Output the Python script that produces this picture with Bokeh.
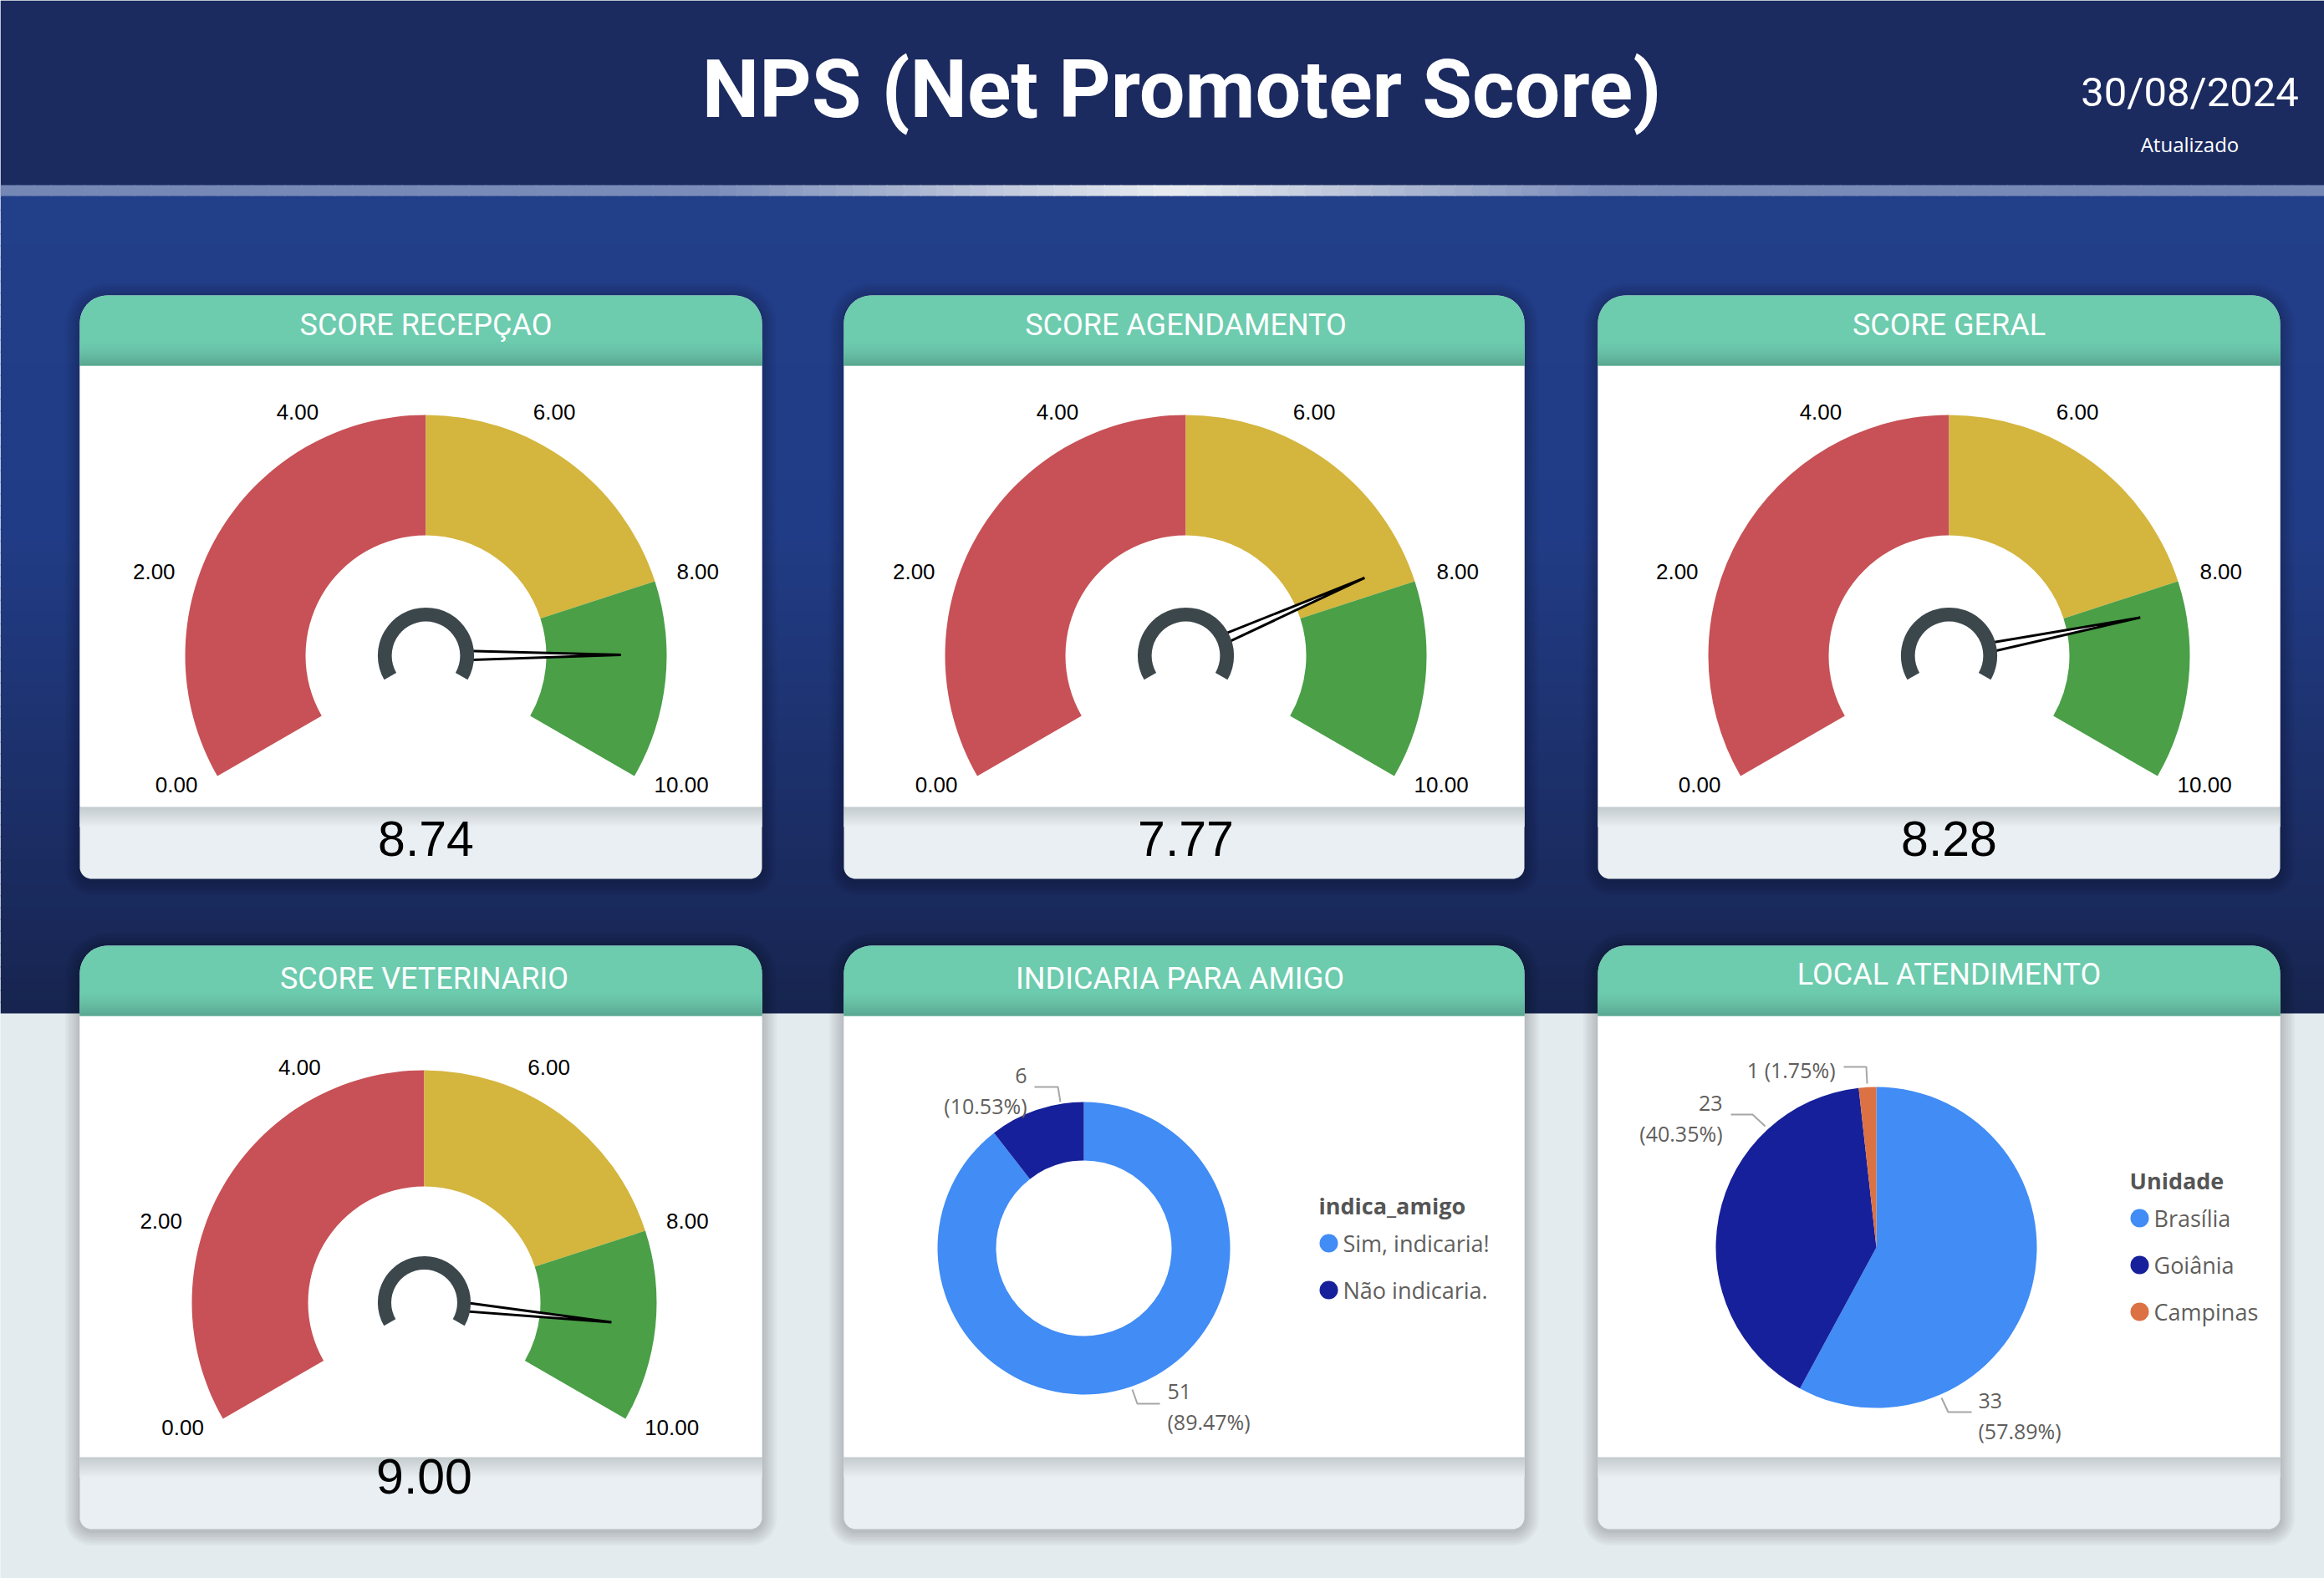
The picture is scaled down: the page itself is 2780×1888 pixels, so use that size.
import numpy as np
from bokeh.plotting import figure
from bokeh.models import Range1d
from bokeh.core.properties import value
from bokeh.embed import file_html
from bokeh.resources import INLINE

# ---------------- data ----------------
TITLE = "NPS (Net Promoter Score)"
DATE_TEXT = "30/08/2024"
UPDATED = "Atualizado"

GAUGE_TITLES = ["SCORE RECEPÇAO", "SCORE AGENDAMENTO", "SCORE GERAL", "SCORE VETERINARIO"]
GAUGE_VALUES = [8.74, 7.77, 8.28, 9.00]
GAUGE_MIN, GAUGE_MAX = 0.0, 10.0
BAND_EDGES = [0.0, 5.0, 8.0, 10.0]
BAND_COLORS = ["#c75156", "#d4b53d", "#4a9f47"]
GAUGE_TICKS = [0, 2, 4, 6, 8, 10]

DONUT_TITLE = "INDICARIA PARA AMIGO"
DONUT_FIELD = "indica_amigo"
DONUT_CATS = ["Sim, indicaria!", "Não indicaria."]
DONUT_COUNTS = [51, 6]
DONUT_COLORS = ["#418cf5", "#16209a"]

PIE_TITLE = "LOCAL ATENDIMENTO"
PIE_FIELD = "Unidade"
PIE_CATS = ["Brasília", "Goiânia", "Campinas"]
PIE_COUNTS = [33, 23, 1]
PIE_COLORS = ["#418cf5", "#16209a", "#dc7143"]

# ---------------- layout ----------------
W, H = 2780, 1888


def fy(y):
    return H - y


def h2r(h):
    h = h.lstrip("#")
    return [int(h[i:i + 2], 16) for i in (0, 2, 4)]


def r2h(c):
    return "#%02x%02x%02x" % tuple(int(round(v)) for v in c)


def mix(c1, c2, t):
    a, b = h2r(c1), h2r(c2)
    return r2h([a[i] + (b[i] - a[i]) * t for i in range(3)])


def stops_color(stops, v):
    for (p0, c0), (p1, c1) in zip(stops[:-1], stops[1:]):
        if v <= p1:
            t = 0 if p1 == p0 else (v - p0) / (p1 - p0)
            return mix(c0, c1, max(0, min(1, t)))
    return stops[-1][1]


def rrect(x0, y0, x1, y1, rt, rb, n=14):
    T, B = fy(y0), fy(y1)
    xs, ys = [], []

    def arc(cx, cy, r, a0, a1):
        for a in np.linspace(a0, a1, n):
            xs.append(cx + r * np.cos(a))
            ys.append(cy + r * np.sin(a))

    arc(x1 - rt, T - rt, rt, 0, np.pi / 2)
    arc(x0 + rt, T - rt, rt, np.pi / 2, np.pi)
    arc(x0 + rb, B + rb, rb, np.pi, 1.5 * np.pi)
    arc(x1 - rb, B + rb, rb, 1.5 * np.pi, 2 * np.pi)
    return xs, ys


def vstrips(x0, x1, y0, y1, n, colfun):
    """horizontal bands stacked vertically (screen y0..y1), overlapping to avoid seams"""
    e = np.linspace(y0, y1, n + 1)
    tops = [fy(a) for a in e[:-1]]
    bots = [fy(b) - (1.5 if j < n - 1 else 0) for j, b in enumerate(e[1:])]
    cols = [colfun((a + b) / 2, (j + 0.5) / n) for j, (a, b) in enumerate(zip(e[:-1], e[1:]))]
    p.quad(left=x0, right=x1, top=tops, bottom=bots, fill_color=cols, line_color=None)


p = figure(width=W, height=H, x_range=Range1d(0, W), y_range=Range1d(0, H),
           output_backend="svg", toolbar_location=None,
           x_axis_type=None, y_axis_type=None, min_border=0)
p.outline_line_color = None
p.background_fill_color = "#e4ebee"
p.border_fill_color = "#e4ebee"
p.grid.visible = False

# blue gradient area (drawn first, header overlaps it)
BLUE_TOP, BLUE_BOT = 222, 1212
blue_stops = [(BLUE_TOP, "#223f8a"), (640, "#213c86"), (BLUE_BOT, "#17244f")]
vstrips(0, W, BLUE_TOP, BLUE_BOT, 70, lambda y, t: stops_color(blue_stops, y))

# header band
p.quad(left=0, right=W, top=fy(0), bottom=fy(222), fill_color="#1b2a5f", line_color=None)

# light separator line with bright centre
xs_edges = np.linspace(0, W, 140)
line_stops = [(0, "#7487b5"), (850, "#7a8cb9"), (1400, "#e9edf1"), (1915, "#7a8cb9"), (W, "#7487b5")]
p.quad(left=xs_edges[:-1], right=list(xs_edges[1:-1] + 1.5) + [W], top=fy(221), bottom=fy(234),
       fill_color=[stops_color(line_stops, (a + b) / 2) for a, b in zip(xs_edges[:-1], xs_edges[1:])],
       line_color=None)

# title texts
p.text(x=[1413], y=[fy(106)], text=[TITLE], text_font=value("Roboto"), text_font_style="bold",
       text_font_size=value("97px"), text_color="white", text_align="center", text_baseline="middle")
p.text(x=[2619], y=[fy(110)], text=[DATE_TEXT], text_font=value("Roboto"),
       text_font_size=value("49px"), text_color="white", text_align="center", text_baseline="middle")
p.text(x=[2619], y=[fy(172)], text=[UPDATED], text_font=value("Open Sans"),
       text_font_size=value("24px"), text_color="white", text_align="center", text_baseline="middle")

# ---------------- cards ----------------
COLS = [(95, 911), (1009, 1823), (1911, 2727)]
ROWS = [353, 1131]
HEAD_H, BODY_B, CARD_H = 84, 612, 698
CARD_TITLES = GAUGE_TITLES[:3] + [GAUGE_TITLES[3], DONUT_TITLE, PIE_TITLE]
TITLE_POS = [(509, 388), (1418, 388), (2331, 388), (507, 1170), (1411, 1170), (2331, 1165)]

cards = [(c, r) for r in ROWS for c in COLS]

# shadows
sh_xs, sh_ys = [], []
for (x0, x1), top in cards:
    for k in range(1, 8):
        e = 2.5 * k
        xs, ys = rrect(x0 - e, top - e + 2, x1 + e, top + CARD_H + e + 2, 33 + e, 14 + e)
        sh_xs.append(xs)
        sh_ys.append(ys)
p.patches(sh_xs, sh_ys, fill_color="black", fill_alpha=0.028, line_color=None)

for i, ((x0, x1), top) in enumerate(cards):
    xs, ys = rrect(x0, top, x1, top + CARD_H, 33, 14)
    p.patch(xs, ys, fill_color="#e9eff2", line_color=None)
    # white body
    p.quad(left=x0, right=x1, top=fy(top + HEAD_H), bottom=fy(top + BODY_B), fill_color="white", line_color=None)
    # footer shadow
    vstrips(x0, x1, top + BODY_B, top + BODY_B + 24, 12,
            lambda y, t: mix("#c3cacd", "#e9eff2", t))
    # header
    xs, ys = rrect(x0, top, x1, top + HEAD_H, 33, 0)
    p.patch(xs, ys, fill_color="#6dcbae", line_color=None)
    vstrips(x0, x1, top + HEAD_H - 30, top + HEAD_H, 15,
            lambda y, t: mix("#6dcbae", "#5aa690", t ** 1.5))
    tx, ty = TITLE_POS[i]
    p.text(x=[tx], y=[fy(ty)], text=[CARD_TITLES[i]], text_font=value("Roboto"),
           text_font_size=value("36px"), text_color="white", text_align="center", text_baseline="middle")

# ---------------- gauges ----------------
GAUGE_GEOM = [(509, 784, 288), (1418, 784, 288), (2331, 784, 288), (507, 1558, 278)]
VALUE_Y = [1003, 1003, 1003, 1766]
SWEEP = 240.0


def ang(v):
    return np.radians(210.0 - (v - GAUGE_MIN) / (GAUGE_MAX - GAUGE_MIN) * SWEEP)


for gi, (cx, cy, R) in enumerate(GAUGE_GEOM):
    Y = fy(cy)
    lo = BAND_EDGES[:-1]
    hi = BAND_EDGES[1:]
    p.annular_wedge(x=[cx] * len(lo), y=[Y] * len(lo), inner_radius=R * 0.5, outer_radius=R,
                    start_angle=[ang(h) for h in hi], end_angle=[ang(l) for l in lo],
                    direction="anticlock", fill_color=BAND_COLORS, line_color=None)
    # tick labels
    for side in ("left", "right"):
        tx, tyy, tt = [], [], []
        for t in GAUGE_TICKS:
            a = ang(t)
            is_left = np.cos(a) < -1e-6
            if (side == "left") != is_left:
                continue
            rr = 1.095 * R
            tx.append(cx + rr * np.cos(a))
            tyy.append(Y + rr * np.sin(a) + 3)
            tt.append("%.2f" % t)
        p.text(x=tx, y=tyy, text=tt, text_font=value("Liberation Sans"), text_font_size=value("26px"),
               text_color="black", text_align="right" if side == "left" else "left", text_baseline="middle")
    # needle
    v = GAUGE_VALUES[gi]
    a = ang(v)
    ux, uy = np.cos(a), np.sin(a)
    px, py = -uy, ux
    r0, hw, r1 = 0.17 * R, 0.019 * R, 0.81 * R
    nx = [cx + r0 * ux + hw * px, cx + r1 * ux, cx + r0 * ux - hw * px]
    ny = [Y + r0 * uy + hw * py, Y + r1 * uy, Y + r0 * uy - hw * py]
    p.patch(nx, ny, fill_color="white", line_color="black", line_width=3, line_join="miter")
    # hub
    p.annular_wedge(x=[cx], y=[Y], inner_radius=0.142 * R, outer_radius=0.2 * R,
                    start_angle=[ang(GAUGE_MAX)], end_angle=[ang(GAUGE_MIN)], direction="anticlock",
                    fill_color="#3c474c", line_color=None)
    # value
    p.text(x=[cx], y=[fy(VALUE_Y[gi])], text=["%.2f" % v], text_font=value("Liberation Sans"),
           text_font_size=value("59px"), text_color="black", text_align="center", text_baseline="middle")


# ---------------- donut ----------------
def slice_angles(counts):
    fr = np.array(counts, dtype=float) / np.sum(counts)
    cum = np.concatenate([[0.0], np.cumsum(fr)])
    return np.pi / 2 - 2 * np.pi * cum[:-1], np.pi / 2 - 2 * np.pi * cum[1:], fr * 100


LABEL_FONT = value("Open Sans")
LABEL_COLOR = "#605e5c"
LEADER_COLOR = "#a6a6a6"

dcx, dcy = 1296, 1493
s, e, pct = slice_angles(DONUT_COUNTS)
p.annular_wedge(x=[dcx] * len(s), y=[fy(dcy)] * len(s), inner_radius=105, outer_radius=175,
                start_angle=s, end_angle=e, direction="clock", fill_color=DONUT_COLORS, line_color=None)

DONUT_LBL = [  # x, y_first, align, leader points
    (1396, 1664, "left", [(1354, 1662), (1360, 1679), (1387, 1679)]),
    (1228, 1286, "right", [(1237, 1300), (1265, 1300), (1268, 1318)]),
]
for k, (lx, ly, al, pts) in enumerate(DONUT_LBL):
    p.text(x=[lx, lx], y=[fy(ly), fy(ly + 36)], text=["%d" % DONUT_COUNTS[k], "(%.2f%%)" % pct[k]],
           text_font=LABEL_FONT, text_font_size=value("25px"), text_color=LABEL_COLOR,
           text_align=al, text_baseline="middle")
    p.line([q[0] for q in pts], [fy(q[1]) for q in pts], line_color=LEADER_COLOR, line_width=2)

p.text(x=[1577], y=[fy(1442)], text=[DONUT_FIELD], text_font=LABEL_FONT, text_font_style="bold",
       text_font_size=value("27px"), text_color="#555555", text_align="left", text_baseline="middle")
leg_y = [1487, 1543]
p.scatter(x=[1589] * len(DONUT_CATS), y=[fy(v) for v in leg_y], size=22, marker="circle",
          fill_color=DONUT_COLORS, line_color=None)
p.text(x=[1606] * len(DONUT_CATS), y=[fy(v) for v in leg_y], text=DONUT_CATS, text_font=LABEL_FONT,
       text_font_size=value("27px"), text_color=LABEL_COLOR, text_align="left", text_baseline="middle")

# ---------------- pie ----------------
pcx, pcy = 2244, 1492
s, e, pct = slice_angles(PIE_COUNTS)
p.wedge(x=[pcx] * len(s), y=[fy(pcy)] * len(s), radius=192, start_angle=s, end_angle=e,
        direction="clock", fill_color=PIE_COLORS, line_color=None)

PIE_LBL = [
    (2366, 1675, "left", [(2322, 1672), (2330, 1689), (2358, 1689)], True),
    (2060, 1319, "right", [(2070, 1333), (2096, 1333), (2111, 1347)], True),
    (2195, 1279, "right", [(2205, 1276), (2232, 1276), (2233, 1296)], False),
]
for k, (lx, ly, al, pts, two) in enumerate(PIE_LBL):
    if two:
        txt = ["%d" % PIE_COUNTS[k], "(%.2f%%)" % pct[k]]
        yy = [fy(ly), fy(ly + 36)]
    else:
        txt = ["%d (%.2f%%)" % (PIE_COUNTS[k], pct[k])]
        yy = [fy(ly)]
    p.text(x=[lx] * len(txt), y=yy, text=txt, text_font=LABEL_FONT, text_font_size=value("25px"),
           text_color=LABEL_COLOR, text_align=al, text_baseline="middle")
    p.line([q[0] for q in pts], [fy(q[1]) for q in pts], line_color=LEADER_COLOR, line_width=2)

p.text(x=[2547], y=[fy(1412)], text=[PIE_FIELD], text_font=LABEL_FONT, text_font_style="bold",
       text_font_size=value("27px"), text_color="#555555", text_align="left", text_baseline="middle")
pleg_y = [1457, 1513, 1569]
p.scatter(x=[2559] * len(PIE_CATS), y=[fy(v) for v in pleg_y], size=22, marker="circle",
          fill_color=PIE_COLORS, line_color=None)
p.text(x=[2576] * len(PIE_CATS), y=[fy(v) for v in pleg_y], text=PIE_CATS, text_font=LABEL_FONT,
       text_font_size=value("27px"), text_color=LABEL_COLOR, text_align="left", text_baseline="middle")

open("out.html", "w").write(file_html(p, INLINE))
